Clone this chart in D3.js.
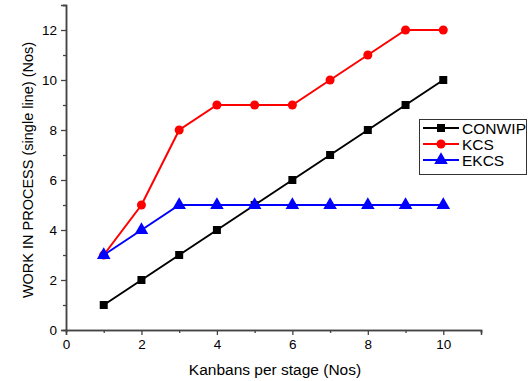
<!DOCTYPE html>
<html>
<head>
<meta charset="utf-8">
<script src="https://cdn.jsdelivr.net/npm/d3@7"></script>
<style>
  body { margin: 0; background: #fff; }
  text { font-family: "Liberation Sans", Arial, sans-serif; }
</style>
</head>
<body>
<svg id="chart" width="530" height="381"></svg>
<script>
var kanbans = [1, 2, 3, 4, 5, 6, 7, 8, 9, 10];
var conwip = [1, 2, 3, 4, 5, 6, 7, 8, 9, 10];
var kcs = [3, 5, 8, 9, 9, 9, 10, 11, 12, 12];
var ekcs = [3, 4, 5, 5, 5, 5, 5, 5, 5, 5];
var seriesNames = ['CONWIP', 'KCS', 'EKCS'];
var seriesColors = ['#000000', '#ff0000', '#0000ff'];
var seriesShapes = [d3.symbolSquare, d3.symbolCircle, d3.symbolTriangle];
var seriesValues = [conwip, kcs, ekcs];

var svg = d3.select('#chart');
var x = d3.scaleLinear().domain([0, 11]).range([66, 481]);
var y = d3.scaleLinear().domain([0, 13]).range([330, 5]);

var axisColor = '#444';

// x axis
var xAxis = svg.append('g').attr('transform', 'translate(0,330)');
xAxis.call(d3.axisBottom(x).tickValues([0, 2, 4, 6, 8, 10]).tickSize(5).tickPadding(4));
xAxis.append('g').call(d3.axisBottom(x).tickValues([1, 3, 5, 7, 9, 11]).tickSize(3).tickFormat(''));
xAxis.selectAll('.domain').attr('stroke', axisColor).attr('stroke-width', 1.5);
xAxis.selectAll('line').attr('stroke', axisColor).attr('stroke-width', 1.3);
xAxis.selectAll('text').attr('font-size', 13.5).attr('fill', '#000').style('font-family', '"Liberation Sans", Arial, sans-serif');

// y axis
var yAxis = svg.append('g').attr('transform', 'translate(66,0)');
yAxis.call(d3.axisLeft(y).tickValues([0, 2, 4, 6, 8, 10, 12]).tickSize(5).tickPadding(4));
yAxis.append('g').call(d3.axisLeft(y).tickValues([1, 3, 5, 7, 9, 11, 13]).tickSize(3).tickFormat(''));
yAxis.selectAll('.domain').attr('stroke', axisColor).attr('stroke-width', 1.5);
yAxis.selectAll('line').attr('stroke', axisColor).attr('stroke-width', 1.3);
yAxis.selectAll('text').attr('font-size', 13.5).attr('fill', '#000').style('font-family', '"Liberation Sans", Arial, sans-serif');

// axis titles
svg.append('text')
    .attr('x', 275).attr('y', 375)
    .attr('text-anchor', 'middle')
    .attr('font-size', 15.5)
    .text('Kanbans per stage (Nos)');
svg.append('text')
    .attr('transform', 'translate(33,170) rotate(-90)')
    .attr('text-anchor', 'middle')
    .attr('font-size', 14.5)
    .text('WORK IN PROCESS (single line) (Nos)');

// series
var line = d3.line()
    .x(function(d, i) { return x(kanbans[i]); })
    .y(function(d) { return y(d); });

var symSizes = [64, 64, 80];

seriesValues.forEach(function(vals, s) {
    svg.append('path')
        .datum(vals)
        .attr('d', line)
        .attr('fill', 'none')
        .attr('stroke', seriesColors[s])
        .attr('stroke-width', 2);
    svg.selectAll('.pt' + s)
        .data(vals)
        .enter()
        .append('path')
        .attr('class', 'pt' + s)
        .attr('transform', function(d, i) { return 'translate(' + x(kanbans[i]) + ',' + y(d) + ')'; })
        .attr('d', d3.symbol().type(seriesShapes[s]).size(symSizes[s]))
        .attr('fill', seriesColors[s]);
});

// legend
var legend = svg.append('g');
legend.append('rect')
    .attr('x', 419.5).attr('y', 119.5)
    .attr('width', 107).attr('height', 55)
    .attr('fill', '#fff')
    .attr('stroke', '#333')
    .attr('stroke-width', 1);
seriesNames.forEach(function(name, s) {
    var ly = 128 + s * 16;
    legend.append('line')
        .attr('x1', 423).attr('x2', 459)
        .attr('y1', ly).attr('y2', ly)
        .attr('stroke', seriesColors[s])
        .attr('stroke-width', 2);
    legend.append('path')
        .attr('transform', 'translate(441,' + ly + ')')
        .attr('d', d3.symbol().type(seriesShapes[s]).size(symSizes[s]))
        .attr('fill', seriesColors[s]);
    legend.append('text')
        .attr('x', 462).attr('y', ly + 5.5)
        .attr('font-size', 15.5)
        .attr('textLength', name === 'CONWIP' ? 64 : null)
        .text(name);
});
</script>
</body>
</html>
